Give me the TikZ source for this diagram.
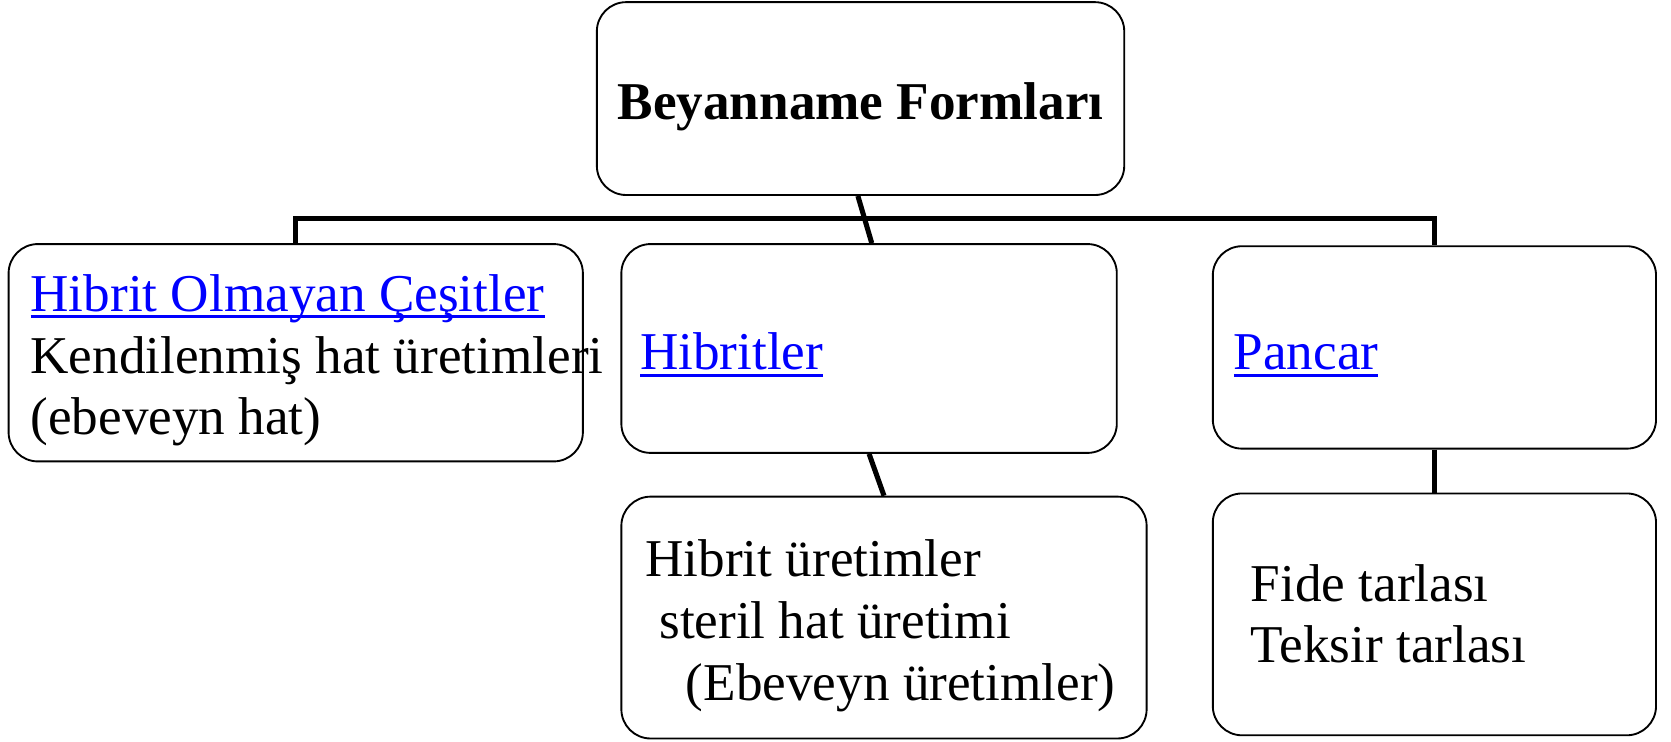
\documentclass[tikz,border=0pt]{standalone}
\usepackage{fontspec}
\setmainfont{Liberation Serif}
\usetikzlibrary{arrows, shapes}
\usetikzlibrary{positioning}
\newcommand{\enlace}[1]{\textcolor{blue}{\setbox0\hbox{#1}\rlap{\rule[-3.75pt]{\wd0}{1.5pt}}\box0}}

\begin{document}
\begin{tikzpicture}[x=0.02cm,y=-0.02cm,thick,main node/.style={rectangle,draw,rounded corners=0.55cm,line width=1pt,inner sep=0pt},texto/.style={anchor=base west,align=left,inner sep=0pt,font=\fontsize{28.4}{33}\selectfont},linea/.style={line width=2.7pt}]
				\useasboundingbox (0,0) rectangle (1568,696);
				% Definición de los nodos
				\node[main node,minimum width=9.9cm,minimum height=3.62cm,font=\bfseries\fontsize{28.4}{33}\selectfont] (1) at (807.5,92.5) {\raisebox{-0.16cm}[\height][\depth]{Beyanname Formları}};
				\node[main node,minimum width=10.78cm,minimum height=4.08cm] (2) at (277.5,331) {};
				\node[main node,minimum width=9.3cm,minimum height=3.92cm] (3) at (815.5,327) {};
				\node[main node,minimum width=8.32cm,minimum height=3.8cm] (4) at (1346,326) {};
				\node[main node,minimum width=9.86cm,minimum height=4.54cm] (5) at (829.5,579.5) {};
				\node[main node,minimum width=8.32cm,minimum height=4.54cm] (6) at (1346,576.5) {};
				
				% Textos de las cajas
				\node[texto] (t2) at (28,408) {\enlace{Hibrit Olmayan Çeşitler}\\Kendilenmiş hat üretimleri\\(ebeveyn hat)};
				\node[texto] (t3) at (600,347) {\enlace{Hibritler}};
				\node[texto] (t4) at (1157,347) {\enlace{Pancar}};
				\node[texto] (t5) at (605,657) {Hibrit üretimler\\\hspace*{0.26cm}steril hat üretimi\\\hspace*{0.76cm}(Ebeveyn üretimler)};
				\node[texto] (t6) at (1173,622) {Fide tarlası\\Teksir tarlası};
				
				% Conexiones
				\draw[linea] (2.north) -- ++(0,-23) -| (4.north);
				\draw[linea] ([xshift=-0.05cm]1.south) -- ([xshift=0.05cm]3.north);
				\draw[linea] (3.south) -- (5.north);
				\draw[linea] (4.south) -- (6.north);
			\end{tikzpicture}
\end{document}
